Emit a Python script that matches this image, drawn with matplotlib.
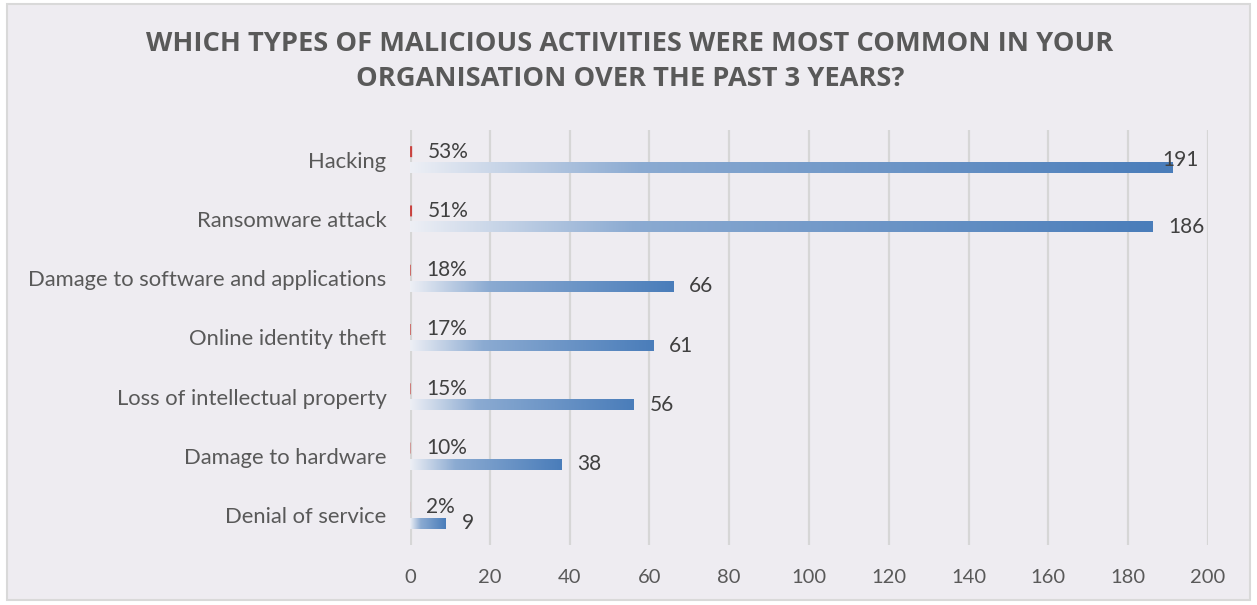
import numpy as np
import matplotlib.pyplot as plt
from matplotlib.colors import to_rgb
from matplotlib.patches import Rectangle

# survey answers, top to bottom
categories = ["Hacking", "Ransomware attack", "Damage to software and applications",
              "Online identity theft", "Loss of intellectual property",
              "Damage to hardware", "Denial of service"]
counts = [191, 186, 66, 61, 56, 38, 9]
shares = [0.53, 0.51, 0.18, 0.17, 0.15, 0.10, 0.02]
share_labels = ["53%", "51%", "18%", "17%", "15%", "10%", "2%"]
xticks = [0, 20, 40, 60, 80, 100, 120, 140, 160, 180, 200]

BG = "#EEECF1"
BLUE = "#4A7DBA"
RED = "#C9423F"
TXT = "#595959"
LBL = "#404040"

plt.rcParams["font.family"] = ["Lato", "DejaVu Sans"]

fig = plt.figure(figsize=(12.57, 6.05), dpi=100, facecolor="white")
fig.patches.append(Rectangle((0.0056, 0.008), 0.9888, 0.985, transform=fig.transFigure,
                             facecolor=BG, edgecolor="#D9D9D9", linewidth=1.5, zorder=-10))

ax = fig.add_axes([0.3262, 0.0992, 0.6348, 0.6859])
ax.set_facecolor(BG)
ax.patch.set_alpha(0)

xmax = 200
bar_h = 0.185
off = 0.135


def gradient_row(n=256):
    # light at the base, fast rise to mid-blue, then slower to full blue
    t = np.linspace(0, 1, n)
    f = np.interp(t, [0, 0.3, 1], [0, 0.6, 1])
    c0 = np.array(to_rgb("#EDEFF5"))
    c1 = np.array(to_rgb(BLUE))
    rgb = c0[None, :] * (1 - f[:, None]) + c1[None, :] * f[:, None]
    return rgb[None, :, :]


grad = gradient_row()
for i, v in enumerate(counts):
    yc = i + off
    ax.imshow(grad, extent=[0, v, yc + bar_h / 2, yc - bar_h / 2], aspect="auto",
              interpolation="bilinear", zorder=3)
    # value label, kept inside the plot when it would run past the end
    if v + 4 + 9 > xmax:
        ax.text(xmax - 2.3, i, str(v), ha="right", va="center", fontsize=15,
                color=LBL, zorder=5)
    else:
        ax.text(v + 4, yc, str(v), ha="left", va="center", fontsize=15,
                color=LBL, zorder=5)

# percentage series: tiny bars on the same count scale
ax.barh([i - off for i in range(len(shares))], shares, height=bar_h,
        color=RED, linewidth=0, snap=False, zorder=4)
for i, (p, s) in enumerate(zip(shares, share_labels)):
    ax.text(p + 4, i - off, s, ha="left", va="center", fontsize=15,
            color=LBL, zorder=5)

ax.set_xlim(0, xmax)
ax.set_ylim(len(categories) - 0.5, -0.5)

for x in xticks:
    lw = 3.0 if x == 0 else 1.6
    ax.axvline(x, color="#D6D6D6", linewidth=lw, zorder=1)

ax.set_xticks(xticks)
ax.set_xticklabels([str(x) for x in xticks], fontsize=14.5, color=TXT)
ax.set_yticks(range(len(categories)))
ax.set_yticklabels(categories, fontsize=15.8, color=TXT)
ax.tick_params(axis="x", length=0, pad=17)
ax.tick_params(axis="y", length=0, pad=17)
for sp in ax.spines.values():
    sp.set_visible(False)

fig.text(0.501, 0.928, "WHICH TYPES OF MALICIOUS ACTIVITIES WERE MOST COMMON IN YOUR",
         ha="center", va="center", fontsize=19.6, fontweight="bold", color=TXT,
         family=["Open Sans", "DejaVu Sans"])
fig.text(0.501, 0.870, "ORGANISATION OVER THE PAST 3 YEARS?",
         ha="center", va="center", fontsize=19.6, fontweight="bold", color=TXT,
         family=["Open Sans", "DejaVu Sans"])

fig.savefig("out.png", dpi=100, facecolor="white")
